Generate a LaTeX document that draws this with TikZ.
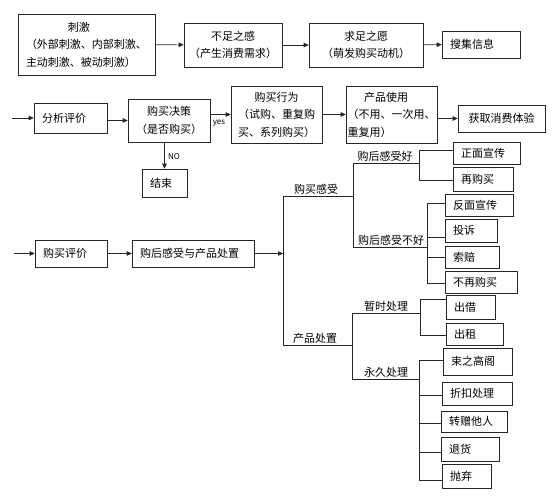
\documentclass[tikz,border=0pt]{standalone}
\usepackage{fontspec}
\newfontfamily\cjk{Noto Sans CJK SC}
\usepackage{tikz}
\usetikzlibrary{positioning, arrows.meta, shadows}

\begin{document}
\begin{tikzpicture}[
    x=1pt, y=-1pt,
    ln/.style={line width=0.6pt, draw=black!85},
    box/.style={rectangle, ln, fill=white, inner sep=1.5pt, align=center,
        font=\cjk\fontsize{11}{17.5}\selectfont,
        drop shadow={shadow xshift=0.9pt, shadow yshift=-0.9pt, fill=black!70}},
    leaf/.style={box, align=left, inner xsep=8pt, inner ysep=0pt, text width=#1},
    lbl/.style={anchor=south, inner sep=1.2pt, font=\cjk\fontsize{11}{12}\selectfont},
    small/.style={inner sep=0pt, font=\cjk\fontsize{8}{9}\selectfont},
    arr/.style={ln, -{Triangle[length=5pt, width=4.5pt]}},
]
\useasboundingbox (0,0) rectangle (560,502);

% --- Row 1: stimulus to information ---
\node[box, align=left, minimum width=137pt, minimum height=61pt] (cj) at (86.5,44.5)
    {\hspace*{3.8em}刺激\\（外部刺激、内部刺激、\\主动刺激、被动刺激）};
\node[box, minimum width=98pt, minimum height=44pt] (bz) at (233,45) {不足之感\\（产生消费需求）};
\node[box, minimum width=114pt, minimum height=44pt] (qz) at (366,45) {求足之愿\\（萌发购买动机）};
\node[leaf=62pt, minimum height=27pt] (sj) at (481,44.5) {搜集信息};
\draw[arr] (cj) -- (bz);
\draw[arr] (bz) -- (qz);
\draw[arr] (qz) -- (sj);

% --- Row 2: evaluation, decision, behaviour, use ---
\coordinate (in2) at (12,118);
\node[leaf=57pt, minimum height=30pt] (fx) at (70.5,118) {分析评价};
\node[box, minimum width=82pt, minimum height=43pt] (jc) at (169,120.5) {购买决策\\（是否购买）};
\node[box, minimum width=91pt, minimum height=57pt] (xw) at (276.5,114.5)
    {购买行为\\（试购、重复购\\买、系列购买）};
\node[box, align=left, inner xsep=1pt, minimum width=91pt, minimum height=57pt] (sy) at (391.5,114.5)
    {\hspace*{1.5em}产品使用\\（不用、一次用、\\重复用）};
\node[box, minimum width=87pt, minimum height=27pt] (hq) at (501.5,118.5) {获取消费体验};
\node[leaf=29pt, minimum height=28pt] (js) at (164.5,183) {结束};
\draw[arr] (in2) -- (fx);
\draw[arr] (fx.east |- jc) -- (jc);
\draw[arr] (jc.east |- xw) -- (xw);
\node[small] (yes) at (219,123) {yes};
\draw[arr] (xw) -- (sy);
\draw[arr] (sy.east |- hq) -- (hq);
\draw[arr] (jc.south -| js) -- (js);
\node[small] (no) at (174,157) {NO};

% --- Row 3: post-purchase ---
\coordinate (in3) at (14,253.5);
\node[leaf=56pt, minimum height=27pt] (gp) at (71,253.5) {购买评价};
\node[leaf=106pt, minimum height=27pt] (gh) at (193,253.5) {购后感受与产品处置};
\coordinate (hub) at (283,253.5);
\draw[arr] (in3) -- (gp);
\draw[arr] (gp) -- (gh);
\draw[arr] (gh) -- (hub);

% --- Tree: main split ---
\coordinate (m1) at (283,196);
\coordinate (m2) at (283,345);
\draw[ln] (m1) -- (m2);

% purchase feeling
\coordinate (s1) at (353,163);
\coordinate (s2) at (353,247);
\draw[ln] (m1) -- (m1 -| s1);
\node[lbl] (gmgs) at (316,196) {购买感受};
\draw[ln] (s1) -- (s2);

% good feeling
\node[leaf=51pt, minimum height=22pt] (zm) at (486.5,153) {正面宣传};
\node[leaf=44pt, minimum height=24pt] (zg) at (483,179) {再购买};
\coordinate (bzm) at (419,150);
\coordinate (bzg) at (419,180);
\draw[ln] (s1) -- (s1 -| bzm);
\node[lbl] (hao) at (385,163) {购后感受好};
\draw[ln] (bzm) -- (bzg);
\draw[ln] (bzm) -- (bzm -| zm.west);
\draw[ln] (bzg) -- (bzg -| zg.west);

% bad feeling
\node[leaf=52pt, minimum height=22pt] (fm) at (479,205) {反面宣传};
\node[leaf=36pt, minimum height=23pt] (ts) at (471,230.5) {投诉};
\node[leaf=38pt, minimum height=22pt] (sp) at (472,257) {索赔};
\node[leaf=56pt, minimum height=22pt] (bg) at (481,282) {不再购买};
\foreach \n/\y in {fm/203, ts/237, sp/257, bg/283}{
    \coordinate (b\n) at (427,\y);
    \draw[ln] (b\n) -- (b\n -| \n.west);
}
\draw[ln] (bfm) -- (bbg);
\draw[ln] (s2) -- (s2 -| bfm);
\node[lbl] (buhao) at (391,247) {购后感受不好};

% product disposal
\coordinate (p1) at (352,313);
\coordinate (p2) at (352,379);
\draw[ln] (m2) -- (m2 -| p1);
\node[lbl] (cpcz) at (315,345) {产品处置};
\draw[ln] (p1) -- (p2);

% temporary
\node[leaf=33pt, minimum height=24pt] (cjie) at (470.5,307) {出借};
\node[leaf=41pt, minimum height=22pt] (cz) at (474.5,334) {出租};
\foreach \n/\y in {cjie/299, cz/335}{
    \coordinate (b\n) at (420,\y);
    \draw[ln] (b\n) -- (b\n -| \n.west);
}
\draw[ln] (bcjie) -- (bcz);
\draw[ln] (p1) -- (p1 -| bcjie);
\node[lbl] (zs) at (386,313) {暂时处理};

% permanent
\node[leaf=53pt, minimum height=27pt] (sz) at (477.5,361.5) {束之高阁};
\node[leaf=54pt, minimum height=23pt] (zk) at (477,393.5) {折扣处理};
\node[leaf=50pt, minimum height=21pt] (zz) at (474,421.5) {转赠他人};
\node[leaf=42pt, minimum height=24pt] (th) at (470,449) {退货};
\node[leaf=33pt, minimum height=24pt] (pq) at (466.5,476) {抛弃};
\foreach \n/\y in {sz/360, zk/395, zz/423, th/452, pq/480}{
    \coordinate (b\n) at (419,\y);
    \draw[ln] (b\n) -- (b\n -| \n.west);
}
\draw[ln] (bsz) -- (bpq);
\draw[ln] (p2) -- (p2 -| bsz);
\node[lbl] (yj) at (386,379) {永久处理};

\end{tikzpicture}
\end{document}
